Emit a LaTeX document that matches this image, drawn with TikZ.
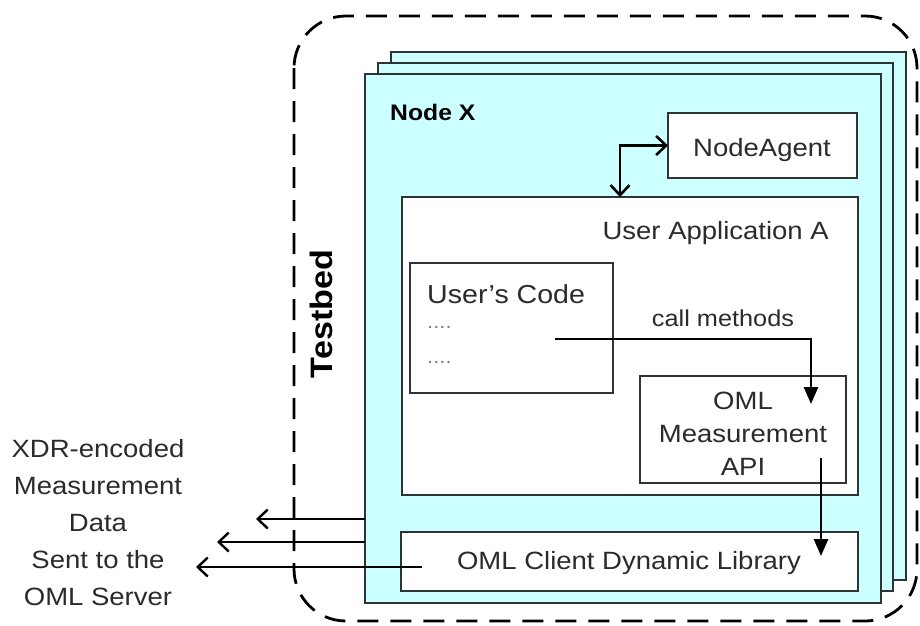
\documentclass[tikz,border=0pt]{standalone}
\usepackage{fontspec}
\setmainfont{Liberation Sans}[FakeStretch=1.1]
\usetikzlibrary{arrows.meta}
\definecolor{cyanfill}{HTML}{CCFFFF}
\definecolor{edge}{HTML}{2E3436}
\definecolor{ink}{HTML}{2B2B2B}
\tikzset{
  panel/.style={draw=edge, fill=cyanfill, line width=1.8pt, inner sep=0pt, outer sep=0pt, anchor=north west},
  box/.style={draw=edge, fill=white, line width=1.8pt, inner sep=0pt, outer sep=0pt, anchor=north west},
  lbl/.style={text=ink, font=\fontsize{25}{30}\selectfont, inner sep=0pt},
  dotrow/.style={text=gray, font=\fontsize{20}{22}\selectfont, inner sep=0pt, anchor=west},
  flow/.style={line width=2.8pt, draw=black, -{Triangle[length=17pt,width=14pt]}},
  barb/.style={line width=2.4pt, draw=black, -{Straight Barb[length=10pt,width=19pt,line width=2.4pt]}},
  twoway/.style={line width=2.8pt, draw=black,
    {Straight Barb[length=10pt,width=19pt,line width=2.6pt]}-{Straight Barb[length=10pt,width=19pt,line width=2.6pt]}},
  border/.style={draw=black, line width=2.8pt, dash pattern=on 21pt off 12pt, rounded corners=52pt}
}
\begin{document}
\begin{tikzpicture}[x=1pt,y=-1pt]
\useasboundingbox (0,0) rectangle (920,625);

% testbed boundary
\draw[border] (294,16) rectangle (917,621);

% stacked node panels
\node[panel, minimum width=515pt, minimum height=528pt] (back) at (391,52) {};
\node[panel, minimum width=515pt, minimum height=528pt] (mid) at (378,63) {};
\node[panel, minimum width=516pt, minimum height=529pt] (front) at (365,74) {};

\node[text=black, font=\bfseries\fontsize{22.5}{26}\selectfont, inner sep=0pt, anchor=west] (nodex) at (390,112) {Node X};
\node[text=black, font=\bfseries\fontsize{31}{36}\selectfont, inner sep=0pt, rotate=90] (testbed) at (321,314) {Testbed};

% components
\node[box, minimum width=189pt, minimum height=65pt] (agent) at (668,113) {};
\node[lbl] (agenttxt) at (762,150) {NodeAgent};

\node[box, minimum width=456pt, minimum height=298pt] (appA) at (402,197) {};
\node[lbl, anchor=east] (apptxt) at (829,233) {User Application A};

\node[box, minimum width=203pt, minimum height=130pt] (code) at (410,263) {};
\node[lbl, font=\fontsize{26}{30}\selectfont, anchor=west] (codetxt) at (427,294) {User's Code};
\node[dotrow] (dots1) at (427,327) {....};
\node[dotrow] (dots2) at (427,362) {....};

\node[box, minimum width=206pt, minimum height=107pt] (api) at (640,376) {};
\node[lbl, align=center, font=\fontsize{25}{33}\selectfont] (apitxt) at (743,434) {OML\\Measurement\\API};

\node[box, minimum width=457pt, minimum height=59pt] (lib) at (401,532) {};
\node[lbl] (libtxt) at (629,563) {OML Client Dynamic Library};

% data sent out of the node
\node[lbl, align=center, font=\fontsize{25}{37}\selectfont] (datatxt) at (98,523)
  {XDR-encoded\\Measurement\\Data\\Sent to the\\OML Server};

% connector ends
\coordinate (jx) at (620,0);
\coordinate (callsrc) at (555,339);
\coordinate (calltip) at (811,404);
\coordinate (apisrc) at (821,458);
\coordinate (libtip) at (821,556);
\coordinate (out1) at (256,519);
\coordinate (out2) at (217,542);
\coordinate (out3) at (196,567);
\coordinate (libsrc) at (422,567);

% NodeAgent <-> application
\draw[twoway] (appA.north -| jx) |- (agent.west);

% calls into the measurement API
\draw[flow] (callsrc) -| (calltip);
\node[lbl, font=\fontsize{23}{27}\selectfont] (calltxt) at (723,318) {call methods};

% API -> client library
\draw[flow] (apisrc) -- (libtip);

% outgoing measurement streams
\draw[barb] (front.west |- out1) -- (out1);
\draw[barb] (front.west |- out2) -- (out2);
\draw[barb] (libsrc) -- (out3);
\end{tikzpicture}
\end{document}
